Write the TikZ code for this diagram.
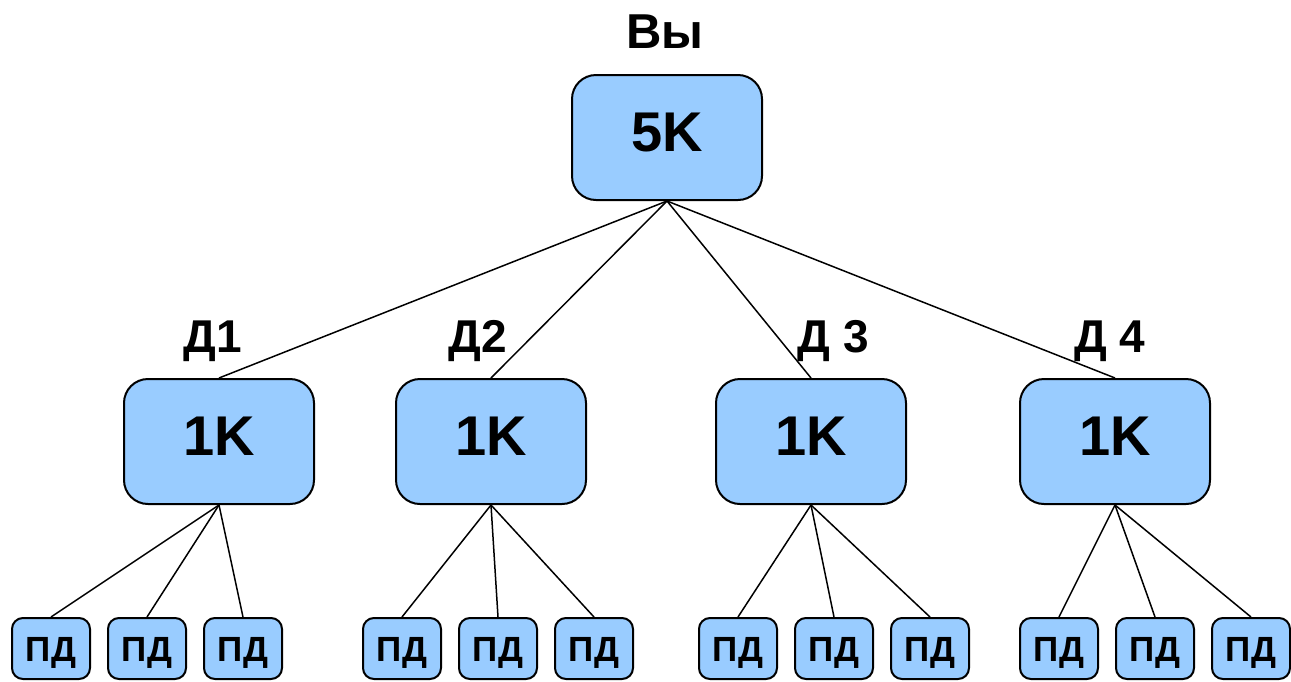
\documentclass[tikz,border=0pt]{standalone}
\usepackage{fontspec}
\setmainfont{Liberation Sans}
\definecolor{boxblue}{HTML}{99CCFF}
\begin{document}
\begin{tikzpicture}[x=1pt,y=-1pt,
  bigbox/.style={draw=black,line width=2pt,fill=boxblue,rounded corners=24pt,
    minimum width=190pt,minimum height=125pt,inner sep=0pt,
    font=\fontsize{56}{60}\selectfont\bfseries,text height=40pt,text depth=12pt},
  smallbox/.style={draw=black,line width=2pt,fill=boxblue,rounded corners=11pt,
    minimum width=78pt,minimum height=61pt,inner sep=0pt,
    font=\fontsize{35}{40}\selectfont\bfseries,text height=25pt,text depth=0pt},
  lbl/.style={anchor=base,inner sep=0pt,font=\fontsize{46}{50}\selectfont\bfseries},
  conn/.style={line width=1.5pt,draw=black}]
\useasboundingbox (0,0) rectangle (1291,681);
% top
\node[lbl,font=\fontsize{49}{52}\selectfont\bfseries] (you) at (665,48) {Вы};
\node[bigbox] (top) at (667,137.5) {5K};
% level 2
\node[bigbox] (b1) at (219,441.5) {1K};
\node[bigbox] (b2) at (491,441.5) {1K};
\node[bigbox] (b3) at (811,441.5) {1K};
\node[bigbox] (b4) at (1115,441.5) {1K};
\node[lbl] (l1) at (213,352) {Д1};
\node[lbl] (l2) at (477.5,352) {Д2};
\node[lbl] (l3) at (833.5,352) {Д 3};
\node[lbl] (l4) at (1110,352) {Д 4};
\foreach \i in {1,2,3,4} \draw[conn] (top.south) -- (b\i.north);
% level 3
\foreach \p/\xa/\xb/\xc in {1/51/147/243, 2/402/498/594, 3/738/834/930, 4/1059/1155/1251}{
  \node[smallbox] (c\p a) at (\xa,648.5) {ПД};
  \node[smallbox] (c\p b) at (\xb,648.5) {ПД};
  \node[smallbox] (c\p c) at (\xc,648.5) {ПД};
  \draw[conn] (b\p.south) -- (c\p a.north);
  \draw[conn] (b\p.south) -- (c\p b.north);
  \draw[conn] (b\p.south) -- (c\p c.north);
}
\end{tikzpicture}
\end{document}
